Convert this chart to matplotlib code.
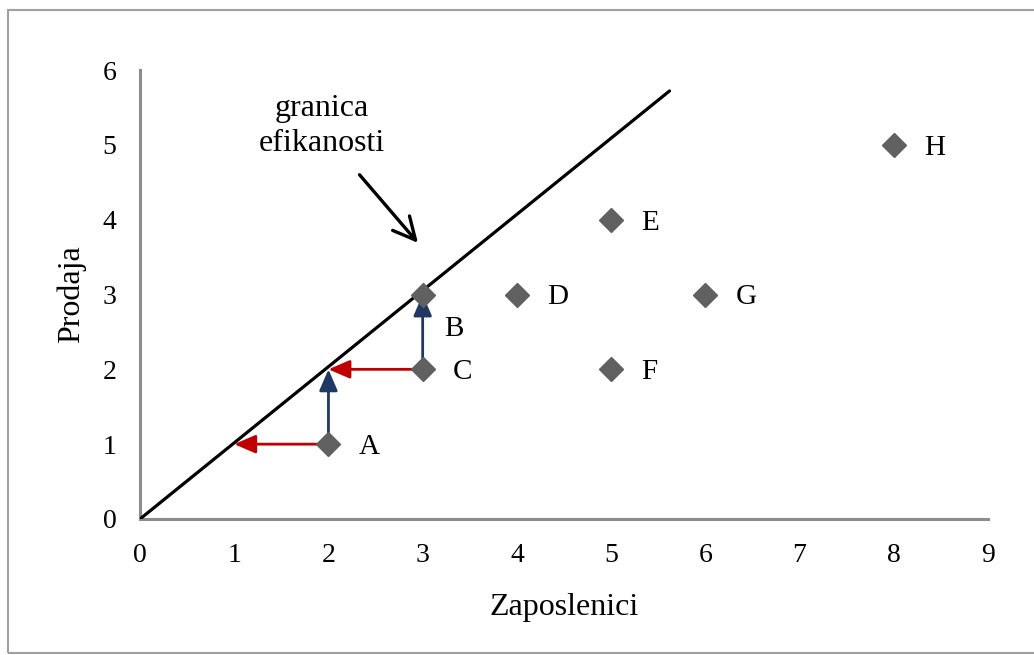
import matplotlib
matplotlib.use("Agg")
import matplotlib.pyplot as plt
from matplotlib.patches import Rectangle

# data
labels = ["A", "B", "C", "D", "E", "F", "G", "H"]
zaposlenici = [2, 3, 3, 4, 5, 5, 6, 8]
prodaja = [1, 3, 2, 3, 4, 2, 3, 5]
frontier_x = [0, 5.62]
frontier_y = [0, 5.72]
# (start, end) of projection arrows
red_arrows = [((2, 1), (1, 1)), ((3, 2), (2, 2))]
blue_arrows = [((2, 1), (2, 2)), ((3, 2), (3, 3))]
x_ticks = list(range(0, 10))
y_ticks = list(range(0, 7))

plt.rcParams['font.family'] = ['Liberation Serif', 'DejaVu Serif']

fig = plt.figure(figsize=(10.34, 6.55), dpi=100)
fig.patches.append(Rectangle((8/1034, 1 - 653/655), 1.2, (653-10)/655,
                             transform=fig.transFigure, fill=False,
                             edgecolor='#a0a0a0', linewidth=1.5))
ax = fig.add_axes([140/1034, 1 - 519/655, (988-140)/1034, (519-70)/655])
ax.set_xlim(0, 9)
ax.set_ylim(0, 6)
ax.set_xticks(x_ticks)
ax.set_yticks(y_ticks)
ax.tick_params(length=0, labelsize=20, pad=17)
for s in ['top', 'right']:
    ax.spines[s].set_visible(False)
for s in ['left', 'bottom']:
    ax.spines[s].set_color('#8c8c8c')
    ax.spines[s].set_linewidth(2.2)

ax.plot(frontier_x, frontier_y, color='black', lw=2.3, solid_capstyle='round', zorder=3)

for (s, e) in red_arrows:
    ax.annotate('', xy=e, xytext=s,
                arrowprops=dict(arrowstyle='-|>,head_length=0.65,head_width=0.28',
                                color='#c00000', lw=2, shrinkA=0, shrinkB=0,
                                mutation_scale=20), zorder=2)
for (s, e) in blue_arrows:
    ax.annotate('', xy=e, xytext=s,
                arrowprops=dict(arrowstyle='-|>,head_length=0.65,head_width=0.28',
                                color='#1f3864', lw=2, shrinkA=0, shrinkB=0,
                                mutation_scale=20), zorder=2)

ax.plot(zaposlenici, prodaja, linestyle='none', marker='D', markersize=12,
        color='#606060', zorder=4, clip_on=False)

for lab, x, y in zip(labels, zaposlenici, prodaja):
    if lab == 'B':
        off = (22, -34)
    else:
        off = (30, -3)
    ax.annotate(lab, xy=(x, y), xytext=off, textcoords='offset pixels',
                ha='left', va='center', fontsize=21, zorder=5)

ax.text(1.93, 5.25, 'granica\nefikanosti', ha='center', va='center',
        fontsize=23, linespacing=1.3)
ax.annotate('', xy=(2.95, 3.69), xytext=(2.33, 4.6),
            arrowprops=dict(arrowstyle='->,head_length=0.8,head_width=0.4',
                            color='black', lw=2.4, shrinkA=0, shrinkB=0,
                            mutation_scale=20))

ax.set_xlabel('Zaposlenici', fontsize=23, labelpad=18)
ax.set_ylabel('Prodaja', fontsize=23, labelpad=12)

fig.savefig('out.png', dpi=100)
